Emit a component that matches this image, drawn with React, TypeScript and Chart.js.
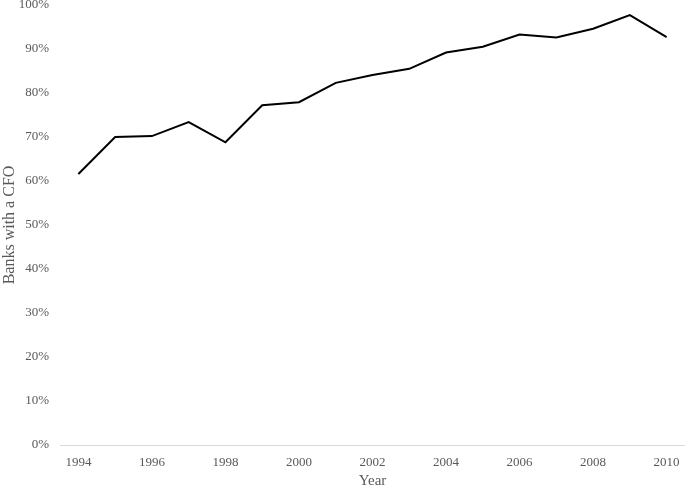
import React, { useEffect, useRef } from "react";
import { Chart, registerables } from "chart.js";

Chart.register(...registerables);

const years = [1994, 1995, 1996, 1997, 1998, 1999, 2000, 2001, 2002, 2003, 2004, 2005, 2006, 2007, 2008, 2009, 2010];
const banksWithCFO = [61.6, 70.0, 70.2, 73.4, 68.8, 77.2, 77.9, 82.3, 84.1, 85.5, 89.2, 90.5, 93.3, 92.6, 94.6, 97.7, 92.7];
const yTicks = [0, 10, 20, 30, 40, 50, 60, 70, 80, 90, 100];

const FONT = "'Liberation Serif', 'Times New Roman', serif";
const GREY = "#595959";

export default function App() {
  const ref = useRef<HTMLCanvasElement | null>(null);
  useEffect(() => {
    if (!ref.current) return;
    const chart = new Chart(ref.current, {
      type: "line",
      data: {
        labels: years.map(String),
        datasets: [
          {
            data: banksWithCFO,
            borderColor: "#000000",
            borderWidth: 2,
            pointRadius: 0,
            fill: false,
            tension: 0,
          },
        ],
      },
      options: {
        animation: false,
        responsive: false,
        maintainAspectRatio: false,
        layout: { padding: { top: 5, right: 0, bottom: 0, left: 0 } },
        plugins: { legend: { display: false }, tooltip: { enabled: false } },
        scales: {
          x: {
            type: "category",
            offset: true,
            grid: { display: false, drawTicks: false },
            border: { display: true, color: "#d9d9d9", width: 1 },
            ticks: {
              autoSkip: false,
              maxRotation: 0,
              color: GREY,
              font: { family: FONT, size: 13 },
              padding: 10,
              callback: (_v: any, i: number) => (years[i] % 2 === 0 ? String(years[i]) : ""),
            },
            title: {
              display: true,
              text: "Year",
              color: GREY,
              font: { family: FONT, size: 15 },
              padding: { top: 3, bottom: -3 },
            },
            afterFit: (s: any) => {
              s.height = 42;
              s.paddingRight = 0;
              s.paddingLeft = 0;
            },
          },
          y: {
            min: 0,
            max: 100,
            grid: { display: false, drawTicks: false },
            border: { display: false },
            afterBuildTicks: (s: any) => {
              s.ticks = yTicks.map((v) => ({ value: v }));
            },
            ticks: {
              color: GREY,
              font: { family: FONT, size: 13 },
              padding: 11,
              callback: (v: any) => v + "%",
            },
            title: {
              display: true,
              text: "Banks with a CFO",
              color: GREY,
              font: { family: FONT, size: 16 },
              padding: { top: 0, bottom: 0 },
            },
            afterFit: (s: any) => {
              s.width = 60;
              s.paddingTop = 0;
              s.paddingBottom = 0;
            },
          },
        },
      },
    });
    return () => chart.destroy();
  }, []);
  return (
    <div style={{ position: "fixed", left: 0, top: 0, width: 685, height: 487, background: "#fff" }}>
      <canvas ref={ref} width={685} height={487} style={{ width: 685, height: 487 }} />
    </div>
  );
}
